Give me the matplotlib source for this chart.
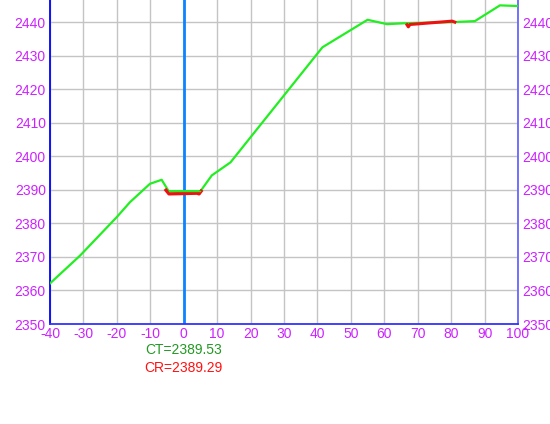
import matplotlib
matplotlib.use('Agg')
import matplotlib.pyplot as plt
import numpy as np

plt.rcParams['font.family'] = ['Liberation Sans', 'DejaVu Sans']
plt.rcParams['axes.unicode_minus'] = False

# green trace (CT)
ct_x = [-40, -31, -20, -16.1, -10.1, -6.6, -4.5, 5, 8.4, 14, 41.5, 55, 60.8, 66.8, 80.3, 87.1, 94.6, 100]
ct_y = [2362.1, 2370.4, 2381.9, 2386.3, 2391.8, 2393.0, 2389.6, 2389.6, 2394.3, 2398.2, 2432.5, 2440.7,
        2439.4, 2439.7, 2440.0, 2440.3, 2445.0, 2444.8]

# red trace (CR), two short pieces
cr1_x = [-5.3, -4.4, 4.0, 4.6, 5.2]
cr1_y = [2389.9, 2388.8, 2389.0, 2388.8, 2389.6]
cr2_x = [66.8, 67.2, 67.7, 80.3, 81.1]
cr2_y = [2439.2, 2438.6, 2439.3, 2440.3, 2440.0]

ct_label = 'CT=2389.53'
cr_label = 'CR=2389.29'

tick_col = '#cc22ff'

fig = plt.figure(figsize=(5.5, 4.24), dpi=100)
ax = fig.add_axes([50 / 550, 1 - 324 / 424, 468 / 550, 324 / 424])

ax.set_xlim(-40, 100)
ax.set_ylim(2350, 2446.6)
ax.set_xticks(np.arange(-40, 101, 10))
ax.set_yticks(np.arange(2350, 2441, 10))
ax.grid(True, color='#c4c4c4', linewidth=1)
ax.set_axisbelow(True)

ax.axvline(0, color='#0a84ff', linewidth=2, zorder=2)

ax.plot(ct_x, ct_y, color='#22ee22', linewidth=1.6, zorder=3)
ax.plot(cr1_x, cr1_y, color='#ee1111', linewidth=2.4, zorder=4)
ax.plot(cr2_x, cr2_y, color='#ee1111', linewidth=2.2, zorder=4)
ax.plot([-4.5, 5], [2389.6, 2389.6], color='#22ee22', linewidth=1.0, zorder=5)

ax.tick_params(axis='both', length=0, labelsize=10, labelcolor=tick_col)
ax.tick_params(axis='y', pad=3, right=True, labelright=True)
ax.tick_params(axis='x', pad=2)

ax.spines['top'].set_visible(False)
ax.spines['left'].set_color('#0000ff')
ax.spines['bottom'].set_color('#3333ff')
ax.spines['right'].set_color('#6666ff')
for s in ('left', 'bottom', 'right'):
    ax.spines[s].set_linewidth(1.3)

ax.text(0, -0.08, ct_label, transform=ax.get_xaxis_transform(), ha='center', va='center',
        color='#229922', fontsize=10)
ax.text(0, -0.135, cr_label, transform=ax.get_xaxis_transform(), ha='center', va='center',
        color='#ff1111', fontsize=10)

fig.savefig('out.png', dpi=100)
